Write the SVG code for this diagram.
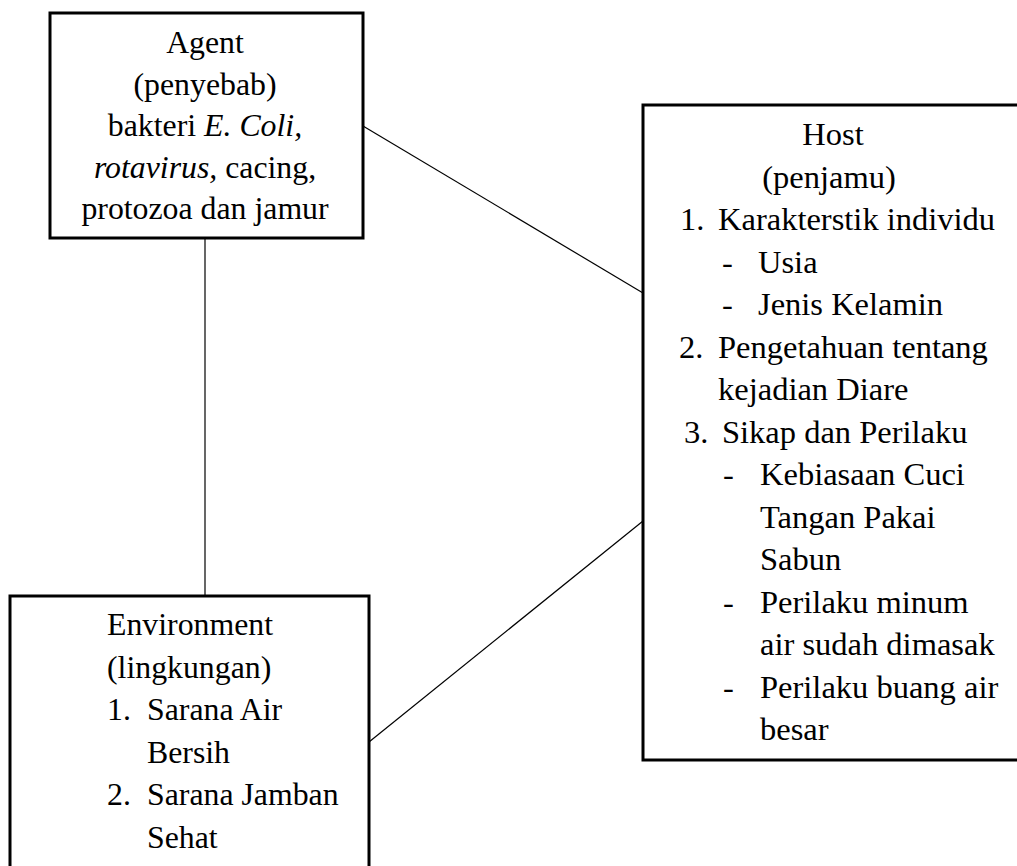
<svg xmlns="http://www.w3.org/2000/svg" width="1017" height="866" viewBox="0 0 1017 866">
<style>
.box{fill:#fff;stroke:#000;stroke-width:3}
.conn line{stroke:#000;stroke-width:1.2}
text{font-family:"Liberation Serif","Times New Roman",serif;font-size:31.8px;fill:#000}
#host text{font-size:32.5px}
.c{text-anchor:middle}
.i{font-style:italic}
</style>
<rect width="1017" height="866" fill="#fff"/>
<g id="connectors" class="conn">
<line x1="363" y1="126" x2="643" y2="293"/>
<line x1="205" y1="238" x2="205" y2="596"/>
<line x1="369" y1="742" x2="643" y2="521"/>
</g>
<g id="agent">
<rect class="box" x="50" y="13" width="313" height="225"/>
<text class="c" x="205" y="53">Agent</text>
<text class="c" x="205" y="94.5">(penyebab)</text>
<text class="c" x="205" y="136">bakteri <tspan class="i">E. Coli,</tspan></text>
<text class="c" x="205" y="177.5"><tspan class="i">rotavirus,</tspan> cacing,</text>
<text class="c" x="205" y="219">protozoa dan jamur</text>
</g>
<g id="host">
<rect class="box" x="643" y="105" width="380" height="655"/>
<text class="c" x="833" y="145">Host</text>
<text class="c" x="829" y="187.5">(penjamu)</text>
<text x="680" y="230">1.</text><text x="718" y="230">Karakterstik individu</text>
<text x="722" y="272.5">-</text><text x="758" y="272.5">Usia</text>
<text x="722" y="315">-</text><text x="758" y="315">Jenis Kelamin</text>
<text x="679" y="357.5">2.</text><text x="718" y="357.5">Pengetahuan tentang</text>
<text x="718" y="400">kejadian Diare</text>
<text x="684" y="442.5">3.</text><text x="722" y="442.5">Sikap dan Perilaku</text>
<text x="723" y="485">-</text><text x="760" y="485">Kebiasaan Cuci</text>
<text x="760" y="527.5">Tangan Pakai</text>
<text x="760" y="570">Sabun</text>
<text x="723" y="612.5">-</text><text x="760" y="612.5">Perilaku minum</text>
<text x="760" y="655">air sudah dimasak</text>
<text x="723" y="697.5">-</text><text x="760" y="697.5">Perilaku buang air</text>
<text x="760" y="740">besar</text>
</g>
<g id="environment">
<rect class="box" x="10" y="596" width="359" height="290"/>
<text x="107" y="635">Environment</text>
<text x="107" y="677.5">(lingkungan)</text>
<text x="107" y="720">1.</text><text x="147" y="720">Sarana Air</text>
<text x="147" y="762.5">Bersih</text>
<text x="107" y="805">2.</text><text x="147" y="805">Sarana Jamban</text>
<text x="147" y="847.5">Sehat</text>
</g>
</svg>
